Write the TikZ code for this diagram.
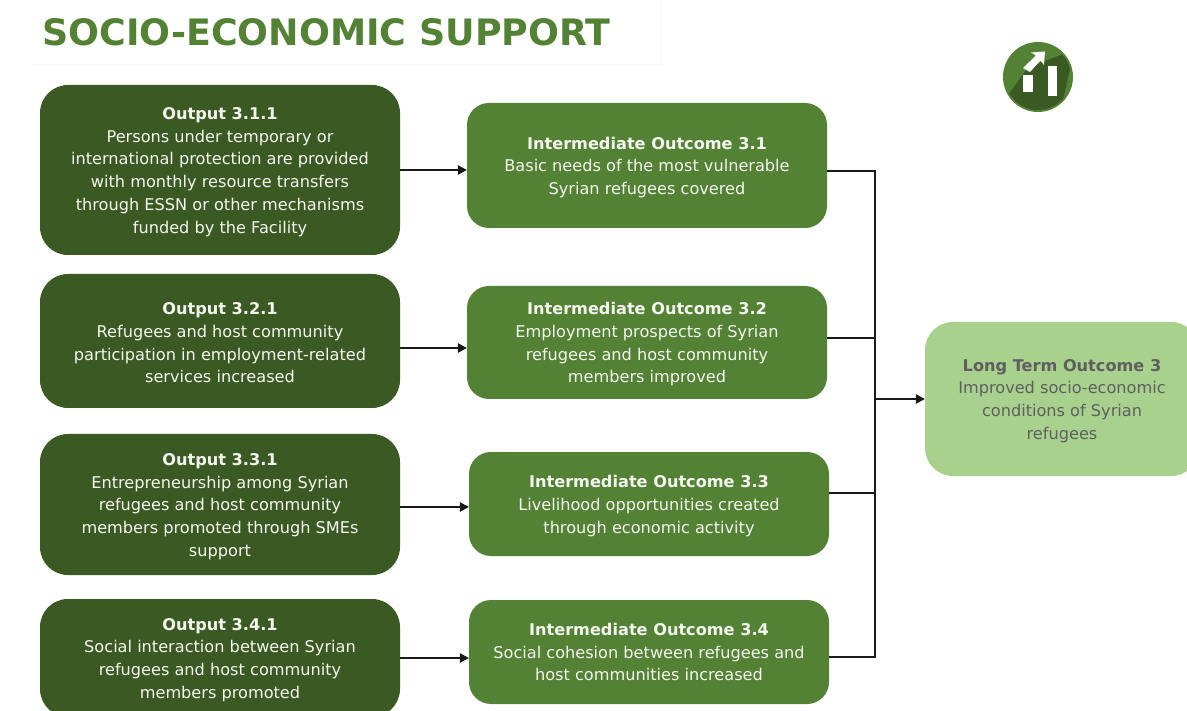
\documentclass[tikz,border=0pt]{standalone}
\usepackage{fontspec}
\setmainfont{DejaVu Sans}
\usetikzlibrary{arrows.meta}
\definecolor{darkgreen}{HTML}{3B5A23}
\definecolor{midgreen}{HTML}{548235}
\definecolor{lightgreen}{HTML}{A9D18E}
\definecolor{greytext}{HTML}{5F5F5F}
\definecolor{boxtext}{HTML}{F4F7F0}
\definecolor{framefaint}{HTML}{F8F8F8}
\newcommand{\boxhead}[1]{\rule{0pt}{16pt}\textbf{#1}}
\tikzset{
  basebox/.style={inner sep=0pt,align=center,font=\fontsize{16.15}{22.7}\selectfont},
  outputbox/.style={basebox,fill=darkgreen,text=boxtext,minimum width=360pt,rounded corners=28pt},
  midbox/.style={basebox,fill=midgreen,text=boxtext,minimum width=360pt,rounded corners=22pt},
  longbox/.style={basebox,fill=lightgreen,text=greytext,minimum width=274pt,rounded corners=28pt},
  conn/.style={draw=black!90,line width=1.3pt},
  arrowconn/.style={conn,-{Triangle[length=9pt,width=9.5pt]}},
}
\begin{document}
\begin{tikzpicture}[x=1pt,y=-1pt]
\useasboundingbox (0,0) rectangle (1187,711);
\clip (0,0) rectangle (1187,711);
\fill[white] (0,0) rectangle (1187,711);
\draw[framefaint,line width=0.7pt] (32,64) -- (660,64) -- (660,0);
\node[anchor=west,inner sep=0pt,text=midgreen,font=\fontsize{36.4}{42}\selectfont\bfseries] (title) at (42,32) {SOCIO-ECONOMIC SUPPORT};

% Icon
\fill[midgreen] (1038,77) circle (35);
\begin{scope}
\clip (1038,77) circle (33);
\fill[darkgreen] (1006,98) -- (1026,70) -- (1042,62) -- (1074,50) -- (1060,114) -- (1006,114) -- cycle;
\end{scope}
\fill[white] (1023.3,75) rectangle (1033.3,92);
\fill[white] (1048,66) rectangle (1057,96);
\fill[white] (1023,68) -- (1036,55.5) -- (1031,52.5) -- (1045,51.5) -- (1044,65) -- (1040.5,60.5) -- (1030,72) -- cycle;

% Outputs
\node[outputbox,minimum height=170pt] (o1) at (220,170) {\boxhead{Output 3.1.1}\\Persons under temporary or\\international protection are provided\\with monthly resource transfers\\through ESSN or other mechanisms\\funded by the Facility};
\node[outputbox,minimum height=134pt] (o2) at (220,341) {\boxhead{Output 3.2.1}\\Refugees and host community\\participation in employment-related\\services increased};
\node[outputbox,minimum height=141pt] (o3) at (220,504.5) {\boxhead{Output 3.3.1}\\Entrepreneurship among Syrian\\refugees and host community\\members promoted through SMEs\\support};
\node[outputbox,minimum height=118pt] (o4) at (220,658) {\boxhead{Output 3.4.1}\\Social interaction between Syrian\\refugees and host community\\members promoted};

% Intermediate outcomes
\node[midbox,minimum height=125pt] (i1) at (647,165.5) {\boxhead{Intermediate Outcome 3.1}\\Basic needs of the most vulnerable\\Syrian refugees covered};
\node[midbox,minimum height=113pt] (i2) at (647,342.5) {\boxhead{Intermediate Outcome 3.2}\\Employment prospects of Syrian\\refugees and host community\\members improved};
\node[midbox,minimum height=104pt] (i3) at (649,504) {\boxhead{Intermediate Outcome 3.3}\\Livelihood opportunities created\\through economic activity};
\node[midbox,minimum height=104pt] (i4) at (649,652) {\textbf{Intermediate Outcome 3.4}\\Social cohesion between refugees and\\host communities increased};

% Long term outcome
\node[longbox,minimum height=154pt] (lt) at (1062,399) {\boxhead{Long Term Outcome 3}\\Improved socio-economic\\conditions of Syrian\\refugees};

% Connectors
\coordinate (bustop) at (875,171);
\coordinate (busbottom) at (875,657);
\coordinate (busmid) at (875,399);
\draw[arrowconn] (o1.east |- 0,170) -- (i1.west |- 0,170);
\draw[arrowconn] (o2.east |- 0,348) -- (i2.west |- 0,348);
\draw[arrowconn] (o3.east |- 0,507) -- (i3.west |- 0,507);
\draw[arrowconn] (o4.east |- 0,658) -- (i4.west |- 0,658);
\draw[conn] (i1.east |- bustop) -- (bustop) -- (busbottom) -- (i4.east |- busbottom);
\draw[conn] (i2.east |- 0,338) -- (875,338);
\draw[conn] (i3.east |- 0,493) -- (875,493);
\draw[arrowconn] (busmid) -- (lt.west |- busmid);
\end{tikzpicture}
\end{document}
